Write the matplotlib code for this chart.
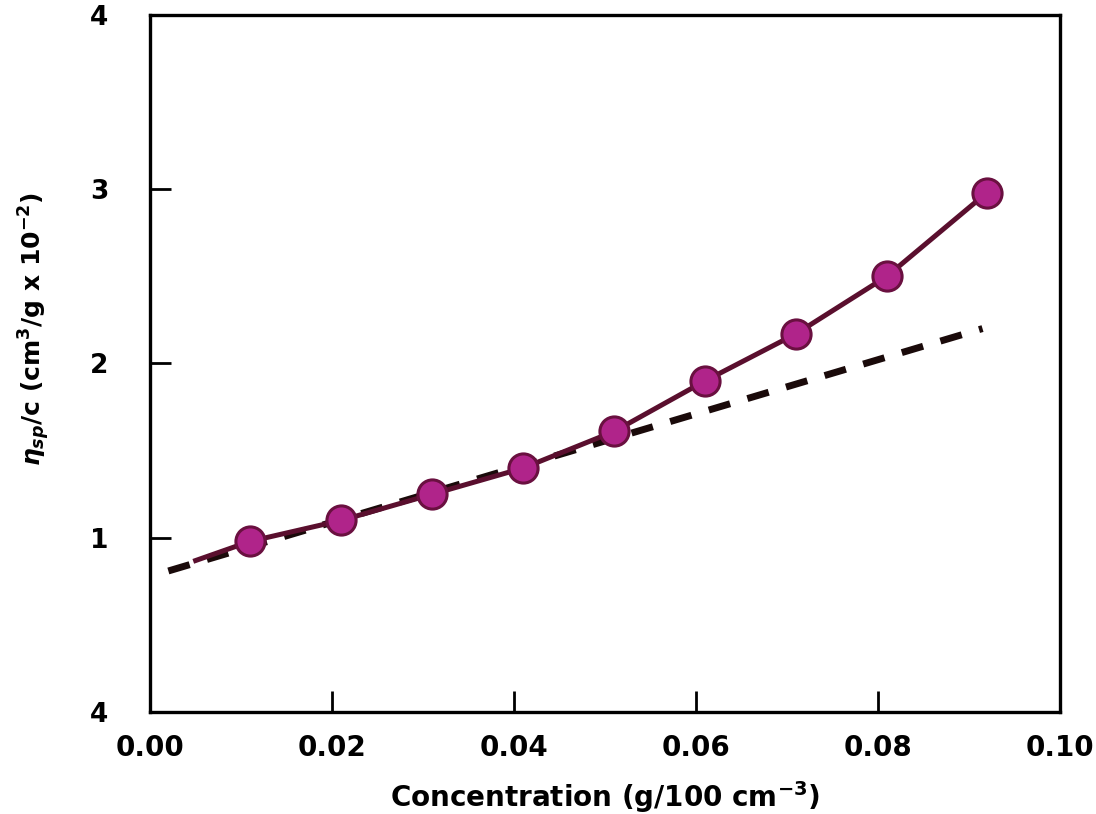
import numpy as np
import matplotlib
matplotlib.use("Agg")
import matplotlib.pyplot as plt

plt.rcParams['font.family'] = ['DejaVu Sans']
plt.rcParams['font.weight'] = 'bold'
plt.rcParams['mathtext.fontset'] = 'custom'
plt.rcParams['mathtext.rm'] = 'DejaVu Sans:bold'
plt.rcParams['mathtext.it'] = 'DejaVu Sans:italic:bold'

# pontos medidos
conc = [0.011, 0.021, 0.031, 0.041, 0.051, 0.061, 0.071, 0.081, 0.092]
visc = [0.98, 1.10, 1.25, 1.40, 1.61, 1.90, 2.17, 2.50, 2.98]

# curva continua (comeca um pouco antes do primeiro ponto)
curva_x = [0.005, 0.011, 0.021, 0.031, 0.041, 0.051, 0.061, 0.071, 0.081, 0.092]
curva_y = [0.87, 0.98, 1.10, 1.25, 1.40, 1.61, 1.90, 2.17, 2.50, 2.98]

# reta tracejada (extrapolacao)
reta_x = [0.002, 0.0915]
reta_y = [0.81, 2.20]

xticks = [0.00, 0.02, 0.04, 0.06, 0.08, 0.10]
xlabels = ['0.00', '0.02', '0.04', '0.06', '0.08', '0.10']
yticks = [0, 1, 2, 3, 4]
ylabels = ['4', '1', '2', '3', '4']

fig = plt.figure(figsize=(10.96, 8.14), dpi=100)
ax = fig.add_axes([0.137, 0.125, 0.830, 0.857])

ax.plot(reta_x, reta_y, color='#1a0a0a', lw=5, dashes=(3.2, 2.6), zorder=2)
ax.plot(curva_x, curva_y, color='#5a0f2e', lw=3.6, zorder=3)
ax.plot(conc, visc, 'o', ms=21, mfc='#b0248a', mec='#6a1040', mew=2.2, ls='none', zorder=4)

ax.set_xlim(0, 0.10)
ax.set_ylim(0, 4)
ax.set_xticks(xticks)
ax.set_xticklabels(xlabels, fontsize=20, fontweight='bold')
ax.set_yticks(yticks)
ax.set_yticklabels(ylabels, fontsize=19, fontweight='bold')
ax.tick_params(axis='x', direction='in', length=15, width=2, pad=16)
ax.tick_params(axis='y', direction='in', length=15, width=2, pad=30)
for s in ax.spines.values():
    s.set_linewidth(2.4)

ax.set_xlabel('Concentration (g/100 cm$^{-3}$)', fontsize=20, fontweight='bold', labelpad=12)
ax.set_ylabel(r'$\eta_{sp}$/c (cm$^3$/g x 10$^{-2}$)', fontsize=18, fontweight='bold')
ax.yaxis.set_label_coords(-0.108, 0.55)

fig.savefig('out.png', dpi=100)
